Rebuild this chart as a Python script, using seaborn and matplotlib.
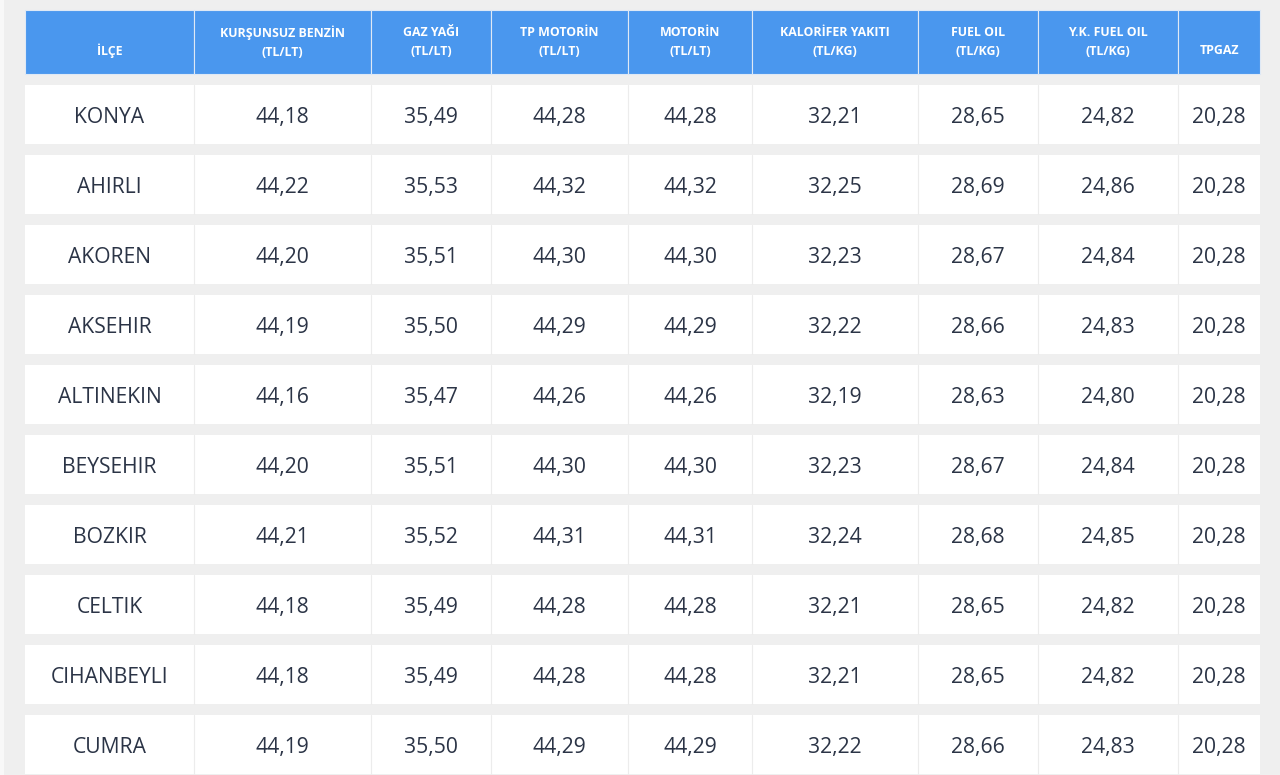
import matplotlib
matplotlib.use("Agg")
import matplotlib.pyplot as plt
from matplotlib.patches import Rectangle
import seaborn as sns

# table data
districts = ["KONYA", "AHIRLI", "AKOREN", "AKSEHIR", "ALTINEKIN",
             "BEYSEHIR", "BOZKIR", "CELTIK", "CIHANBEYLI", "CUMRA"]
headers = ["İLÇE", "KURŞUNSUZ BENZİN\n(TL/LT)", "GAZ YAĞI\n(TL/LT)",
           "TP MOTORİN\n(TL/LT)", "MOTORİN\n(TL/LT)", "KALORİFER YAKITI\n(TL/KG)",
           "FUEL OIL\n(TL/KG)", "Y.K. FUEL OIL\n(TL/KG)", "TPGAZ"]
benzin = [44.18, 44.22, 44.20, 44.19, 44.16, 44.20, 44.21, 44.18, 44.18, 44.19]
gaz_yagi = [35.49, 35.53, 35.51, 35.50, 35.47, 35.51, 35.52, 35.49, 35.49, 35.50]
tp_motorin = [44.28, 44.32, 44.30, 44.29, 44.26, 44.30, 44.31, 44.28, 44.28, 44.29]
motorin = [44.28, 44.32, 44.30, 44.29, 44.26, 44.30, 44.31, 44.28, 44.28, 44.29]
kalorifer = [32.21, 32.25, 32.23, 32.22, 32.19, 32.23, 32.24, 32.21, 32.21, 32.22]
fuel_oil = [28.65, 28.69, 28.67, 28.66, 28.63, 28.67, 28.68, 28.65, 28.65, 28.66]
yk_fuel_oil = [24.82, 24.86, 24.84, 24.83, 24.80, 24.84, 24.85, 24.82, 24.82, 24.83]
tpgaz = [20.28] * 10

columns = [benzin, gaz_yagi, tp_motorin, motorin, kalorifer, fuel_oil, yk_fuel_oil, tpgaz]

sns.set_theme(style="white")
plt.rcParams['font.family'] = ['Open Sans', 'DejaVu Sans']

BG = "#efefef"
BLUE = "#4a97ee"
TXT = "#2b3446"
col_edges = [25, 194, 371, 491, 628, 752, 918, 1038, 1178, 1260]

fig = plt.figure(figsize=(12.8, 7.75), dpi=100)
fig.patch.set_facecolor(BG)
ax = fig.add_axes([0, 0, 1, 1])
ax.set_xlim(0, 1280)
ax.set_ylim(775, 0)
ax.axis("off")

ax.add_patch(Rectangle((0, 0), 4, 775, color="#f8f8f8", lw=0))

# header
head_top, head_bot = 10, 74
for i, h in enumerate(headers):
    x0, x1 = col_edges[i], col_edges[i + 1]
    ax.add_patch(Rectangle((x0, head_top), x1 - x0, head_bot - head_top,
                           facecolor=BLUE, edgecolor="#dfe9f5", lw=0.8))
    ax.text((x0 + x1) / 2, 42 if "\n" in h else 51, h, ha="center", va="center",
            color="white", fontsize=8.9, fontweight="bold", linespacing=1.6)

# rows
def fmt(v):
    return f"{v:.2f}".replace(".", ",")

for r, name in enumerate(districts):
    top = 85 + 70 * r
    bot = top + 59
    ax.add_patch(Rectangle((col_edges[0], top), col_edges[-1] - col_edges[0], bot - top,
                           facecolor="white", lw=0))
    for e in col_edges[1:-1]:
        ax.plot([e, e], [top, bot], color="#ececec", lw=0.8)
    cy = (top + bot) / 2 + 3
    ax.text((col_edges[0] + col_edges[1]) / 2, cy, name, ha="center", va="center",
            color=TXT, fontsize=15.2)
    for c, vals in enumerate(columns):
        x0, x1 = col_edges[c + 1], col_edges[c + 2]
        ax.text((x0 + x1) / 2, cy, fmt(vals[r]), ha="center", va="center",
                color=TXT, fontsize=15.2)

fig.savefig("out.png", dpi=100, facecolor=BG)
